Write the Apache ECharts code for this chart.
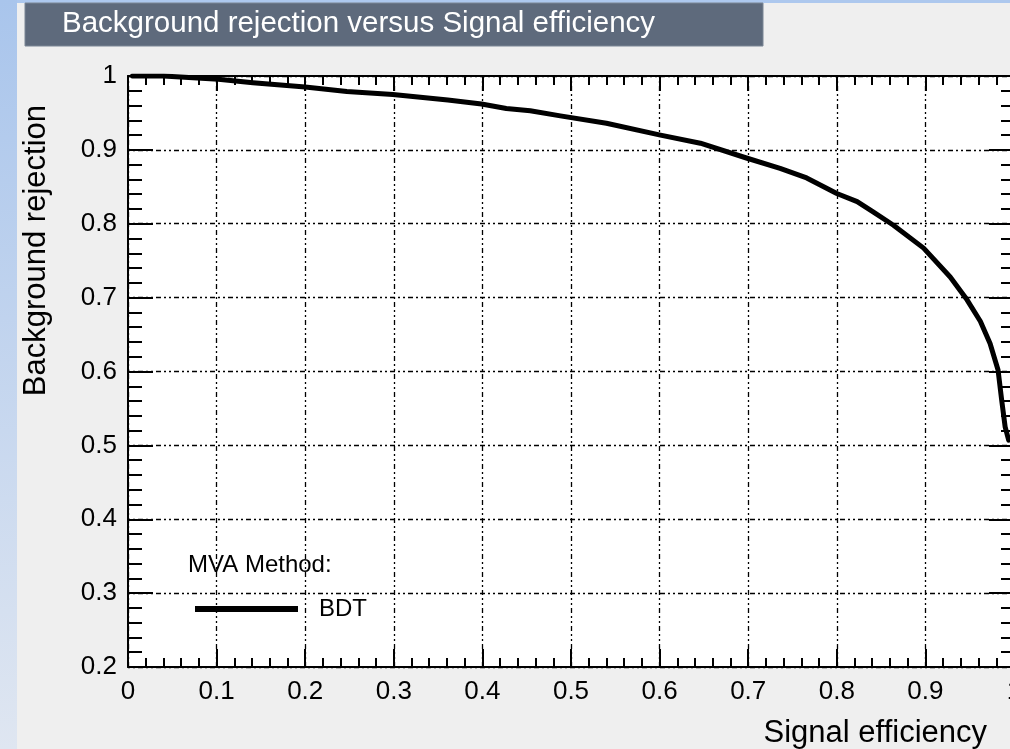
<!DOCTYPE html>
<html>
<head>
<meta charset="utf-8">
<script src="https://cdn.jsdelivr.net/npm/echarts@6/dist/echarts.min.js"></script>
<style>
html,body{margin:0;padding:0;background:#efefef;}
#chart{width:1010px;height:749px;}
</style>
</head>
<body>
<div id="chart"></div>
<script>
const chartTitle = 'Background rejection versus Signal efficiency';
const xAxisTitle = 'Signal efficiency';
const yAxisTitle = 'Background rejection';
const legendHeader = 'MVA Method:';
const seriesName = 'BDT';
const xTicks = [0, 0.1, 0.2, 0.3, 0.4, 0.5, 0.6, 0.7, 0.8, 0.9, 1];
const yTicks = [0.2, 0.3, 0.4, 0.5, 0.6, 0.7, 0.8, 0.9, 1];
const sigEff = [0.005, 0.040, 0.102, 0.141, 0.200, 0.247, 0.299, 0.361, 0.399, 0.427, 0.454, 0.488, 0.540, 0.601, 0.646, 0.698, 0.736, 0.766, 0.800, 0.823, 0.841, 0.864, 0.898, 0.928, 0.947, 0.962, 0.973, 0.982, 0.986, 0.990, 0.994];
const bkgRej = [1.000, 1.000, 0.9955, 0.991, 0.985, 0.979, 0.975, 0.9675, 0.962, 0.956, 0.953, 0.946, 0.936, 0.920, 0.909, 0.889, 0.875, 0.862, 0.841, 0.830, 0.816, 0.798, 0.767, 0.728, 0.697, 0.668, 0.638, 0.602, 0.562, 0.525, 0.507];

const points = sigEff.map((x, i) => [x, bkgRej[i]]);
const font = 'Liberation Sans, Arial, sans-serif';
const fmt = v => (Math.abs(v) < 1e-9 ? '0' : Math.abs(v - 1) < 1e-9 ? '1' : v.toFixed(1));

const GX = 128, GY = 76, GW = 886, GH = 591;

const chart = echarts.init(document.getElementById('chart'), null, {renderer: 'canvas'});
const tickStyle = {color: '#000', width: 2};
const gridLine = {show: true, lineStyle: {color: '#000', width: 1.3, type: [2, 3, 2, 3, 5, 3]}};

chart.setOption({
  backgroundColor: '#efefef',
  animation: false,
  title: [
    {text: chartTitle, left: 62, top: 9, padding: 0,
     textStyle: {color: '#ffffff', fontSize: 29.5, fontWeight: 'normal', fontFamily: font}},
    {text: legendHeader, left: 188, top: 553, padding: 0,
     textStyle: {color: '#000', fontSize: 24, fontWeight: 'normal', fontFamily: font}}
  ],
  graphic: [
    {type: 'rect', shape: {x: 0, y: 0, width: 1010, height: 3}, style: {fill: '#adc8ee'}, silent: true},
    {type: 'rect', shape: {x: 0, y: 0, width: 17, height: 749},
     style: {fill: new echarts.graphic.LinearGradient(0, 0, 0, 1, [{offset: 0, color: '#a9c5ec'}, {offset: 1, color: '#dfe6f1'}])}, silent: true},
    {type: 'rect', shape: {x: 25, y: 3, width: 738, height: 43}, style: {fill: '#5e6a7c', stroke: '#7b8695', lineWidth: 1}, silent: true},
    {type: 'text', x: 987, y: 733, style: {text: xAxisTitle, font: '31px ' + font, fill: '#000', textAlign: 'right', textVerticalAlign: 'middle'}, silent: true},
    {type: 'text', x: 36, y: 105, rotation: Math.PI / 2, style: {text: yAxisTitle, font: '31px ' + font, fill: '#000', textAlign: 'right', textVerticalAlign: 'middle'}, silent: true}
  ],
  grid: {left: GX, top: GY, width: GW, height: GH, show: true, backgroundColor: '#ffffff', borderWidth: 0, containLabel: false, outerBoundsMode: 'none'},
  legend: {
    show: true, left: 190, top: 592, orient: 'vertical',
    icon: 'rect', itemWidth: 103, itemHeight: 6,
    data: [{name: seriesName, itemStyle: {color: '#000'}}],
    textStyle: {color: '#000', fontSize: 24, fontFamily: font, padding: [0, 0, 0, 16]}
  },
  xAxis: [
    {type: 'value', position: 'bottom', min: xTicks[0], max: xTicks[xTicks.length - 1], interval: 0.1,
     axisLine: {show: true, onZero: false, lineStyle: tickStyle},
     axisTick: {show: true, inside: true, length: 18, lineStyle: tickStyle},
     minorTick: {show: true, splitNumber: 5, length: 9, lineStyle: tickStyle},
     axisLabel: {show: true, margin: 12, color: '#000', fontSize: 26, fontFamily: font, formatter: fmt},
     splitLine: gridLine},
    {type: 'value', position: 'top', min: xTicks[0], max: xTicks[xTicks.length - 1], interval: 0.1,
     axisLine: {show: true, onZero: false, lineStyle: tickStyle},
     axisTick: {show: true, inside: true, length: 15, lineStyle: tickStyle},
     minorTick: {show: true, splitNumber: 5, length: 9, lineStyle: tickStyle},
     axisLabel: {show: false}, splitLine: {show: false}}
  ],
  yAxis: [
    {type: 'value', position: 'left', min: yTicks[0], max: yTicks[yTicks.length - 1], interval: 0.1,
     axisLine: {show: true, onZero: false, lineStyle: tickStyle},
     axisTick: {show: true, inside: true, length: 25, lineStyle: tickStyle},
     minorTick: {show: true, splitNumber: 5, length: 14, lineStyle: tickStyle},
     axisLabel: {show: true, margin: 11, color: '#000', fontSize: 26, fontFamily: font, formatter: fmt},
     splitLine: gridLine},
    {type: 'value', position: 'right', min: yTicks[0], max: yTicks[yTicks.length - 1], interval: 0.1,
     axisLine: {show: true, onZero: false, lineStyle: tickStyle},
     axisTick: {show: true, inside: true, length: 25, lineStyle: tickStyle},
     minorTick: {show: true, splitNumber: 5, length: 13, lineStyle: tickStyle},
     axisLabel: {show: false}, splitLine: {show: false}}
  ],
  series: [
    {name: seriesName, type: 'line', xAxisIndex: 0, yAxisIndex: 0, data: points,
     showSymbol: false, symbol: 'none', smooth: false,
     lineStyle: {color: '#000', width: 5, join: 'round', cap: 'round'},
     itemStyle: {color: '#000'}, z: 5}
  ]
});
</script>
</body>
</html>
